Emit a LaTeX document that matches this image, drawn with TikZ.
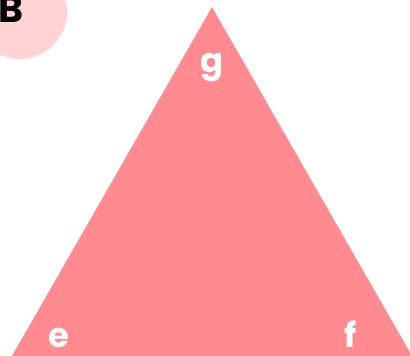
\documentclass[tikz,border=0pt]{standalone}
\usepackage{fontspec}
\setmainfont{Poppins}
\usepackage{xcolor}
\usetikzlibrary{positioning}
\definecolor{trifill}{RGB}{255,138,143}
\definecolor{badgefill}{RGB}{255,210,212}
\tikzset{
  badge/.style={circle, fill=badgefill, minimum size=94pt, inner sep=0pt},
  vlabel/.style={text=white, font=\fontsize{34}{34}\selectfont\bfseries,
                 inner sep=0pt, anchor=base},
}

\begin{document}
\begin{tikzpicture}[x=1pt, y=-1pt]
  \useasboundingbox (0,0) rectangle (410,356);
  % panel badge
  \node[badge] (badge) at (20,12) {};
  \node[font=\fontsize{38}{38}\selectfont\bfseries, inner sep=0pt, anchor=base west] (panel) at (-2,22) {B};

  % the triangle
  \coordinate (top) at (212,7);
  \coordinate (left) at (12,356);
  \coordinate (right) at (412,356);
  \fill[trifill] (top) -- (left) -- (right) -- cycle;
  \node[vlabel] (g) at (212,72) {g};
  \node[vlabel] (e) at (59,347) {e};
  \node[vlabel] (f) at (351,347) {f};
\end{tikzpicture}
\end{document}
